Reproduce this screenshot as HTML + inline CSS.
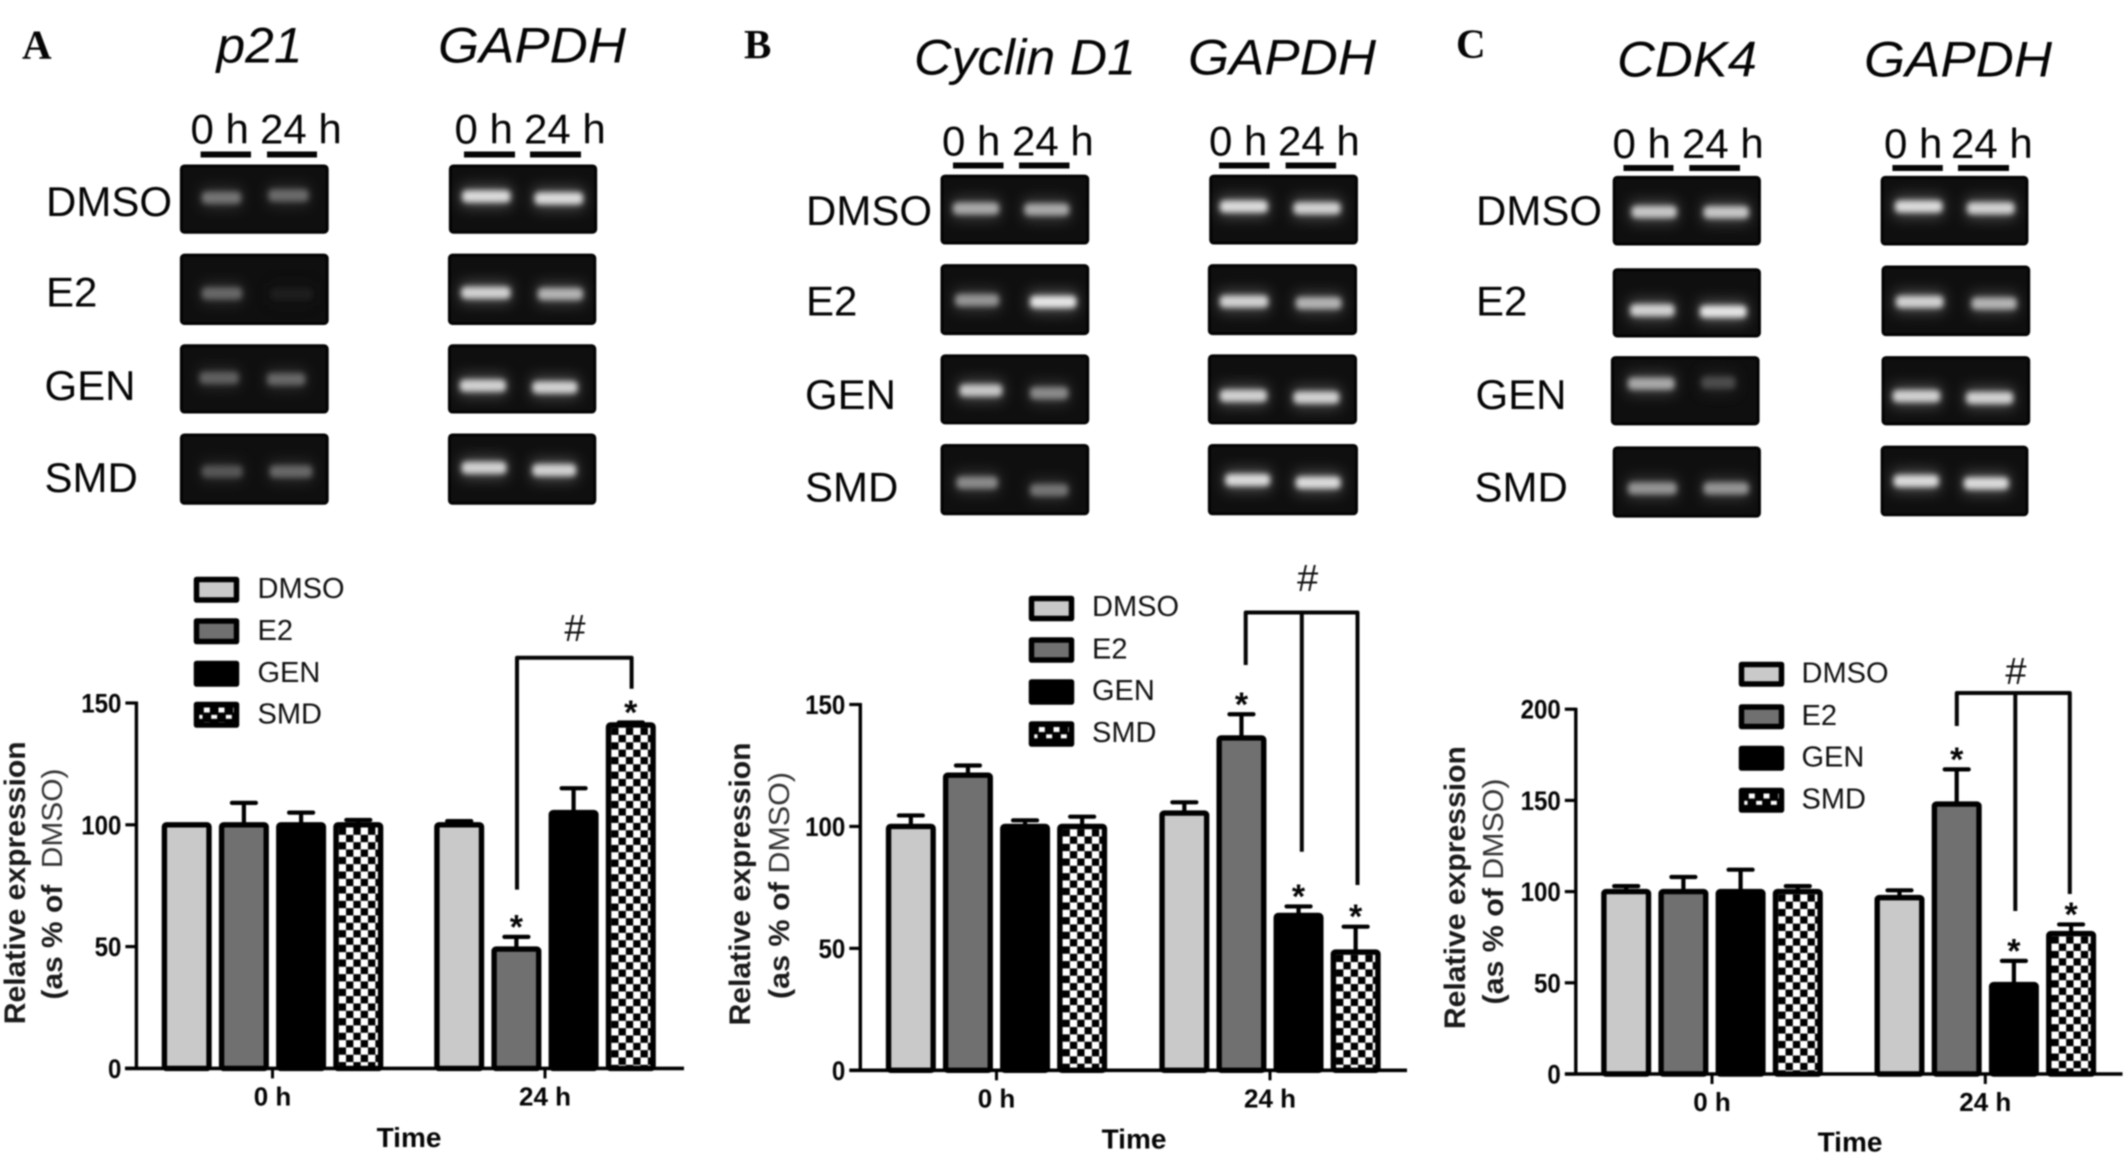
<!DOCTYPE html>
<html lang="en">
<head>
<meta charset="utf-8">
<title>Relative expression of p21, Cyclin D1 and CDK4</title>
<style>
html,body{margin:0;padding:0;background:#fff;width:2126px;height:1154px;overflow:hidden}
#figure{display:block;filter:blur(.7px)}
text{font-family:"Liberation Sans",Arial,sans-serif;fill:#050505}
.letter{font-family:"Liberation Serif",serif;font-weight:bold;font-size:41px}
.gene{font-style:italic;font-size:50px}
.hour{font-size:42px}
.row{font-size:42px}
.leg{font-size:29px;fill:#111}
.hash{font-size:38px;text-anchor:middle;fill:#111}
.time{font-size:28px;font-weight:bold;text-anchor:middle}
.yt1{font-size:30px;font-weight:bold;text-anchor:middle;fill:#1a1a1a}
.yt2{font-size:29px;text-anchor:middle;fill:#1a1a1a}
.ub{fill:#050505}
.lbox{stroke:#000;stroke-width:5.5;stroke-linejoin:round}
.brk{fill:none;stroke:#050505;stroke-width:4;stroke-linejoin:round}
</style>
</head>
<body>
<svg id="figure" xmlns="http://www.w3.org/2000/svg" width="2126" height="1154" viewBox="0 0 2126 1154">
<defs id="defs">
  <filter id="band-blur" x="-30%" y="-150%" width="160%" height="400%"><feGaussianBlur stdDeviation="3"/></filter>
  <filter id="halo-blur" x="-40%" y="-150%" width="180%" height="400%"><feGaussianBlur stdDeviation="7"/></filter>
  <pattern id="leg-a" patternUnits="userSpaceOnUse" width="14.66" height="14.66" patternTransform="translate(196.5 704.5)"><rect width="14.66" height="14.66" fill="#000"/><rect x="7.33" y="3" width="6" height="5" fill="#fff"/><rect x="0" y="10.33" width="6" height="4" fill="#fff"/></pattern>
  <pattern id="leg-b" patternUnits="userSpaceOnUse" width="14.66" height="14.66" patternTransform="translate(1031.5 724)"><rect width="14.66" height="14.66" fill="#000"/><rect x="7.33" y="3" width="6" height="5" fill="#fff"/><rect x="0" y="10.33" width="6" height="4" fill="#fff"/></pattern>
  <pattern id="leg-c" patternUnits="userSpaceOnUse" width="14.66" height="14.66" patternTransform="translate(1741.5 790.5)"><rect width="14.66" height="14.66" fill="#000"/><rect x="7.33" y="3" width="6" height="5" fill="#fff"/><rect x="0" y="10.33" width="6" height="4" fill="#fff"/></pattern>
</defs>

<g id="gels"></g>

<!-- Panel A labels -->
<g>
  <text class="letter" x="22" y="58.5">A</text>
  <text class="gene" x="216.5" y="62.5" textLength="86" lengthAdjust="spacingAndGlyphs">p21</text>
  <text class="gene" x="438" y="62.5" textLength="188" lengthAdjust="spacingAndGlyphs">GAPDH</text>
  <text class="hour" x="190.5" y="143.6">0 h</text>
  <text class="hour" x="260" y="143.6">24 h</text>
  <text class="hour" x="454.5" y="143.6">0 h</text>
  <text class="hour" x="524" y="143.6">24 h</text>
  <rect class="ub" x="200.6" y="151.5" width="50.4" height="6"/>
  <rect class="ub" x="267" y="151.5" width="50" height="6"/>
  <rect class="ub" x="464" y="151.5" width="51" height="6"/>
  <rect class="ub" x="530" y="151.5" width="51" height="6"/>
  <text class="row" x="46" y="216">DMSO</text>
  <text class="row" x="46" y="306.6">E2</text>
  <text class="row" x="44.5" y="400">GEN</text>
  <text class="row" x="44.5" y="492">SMD</text>
</g>
<!-- Panel B labels -->
<g>
  <text class="letter" x="744" y="58">B</text>
  <text class="gene" x="914" y="74.4" textLength="222" lengthAdjust="spacingAndGlyphs">Cyclin D1</text>
  <text class="gene" x="1188" y="74.4" textLength="188" lengthAdjust="spacingAndGlyphs">GAPDH</text>
  <text class="hour" x="942" y="155.5">0 h</text>
  <text class="hour" x="1012" y="155.5">24 h</text>
  <text class="hour" x="1209" y="155.5">0 h</text>
  <text class="hour" x="1278" y="155.5">24 h</text>
  <rect class="ub" x="953" y="162.5" width="50.5" height="6"/>
  <rect class="ub" x="1019" y="162.5" width="50.5" height="6"/>
  <rect class="ub" x="1219" y="162.5" width="50.5" height="6"/>
  <rect class="ub" x="1285.6" y="162.5" width="50.5" height="6"/>
  <text class="row" x="806" y="224.8">DMSO</text>
  <text class="row" x="806" y="315.4">E2</text>
  <text class="row" x="805" y="409">GEN</text>
  <text class="row" x="805" y="501.3">SMD</text>
</g>
<!-- Panel C labels -->
<g>
  <text class="letter" x="1456" y="57.5">C</text>
  <text class="gene" x="1617" y="76.7" textLength="140" lengthAdjust="spacingAndGlyphs">CDK4</text>
  <text class="gene" x="1864" y="76.7" textLength="188" lengthAdjust="spacingAndGlyphs">GAPDH</text>
  <text class="hour" x="1612.5" y="157.8">0 h</text>
  <text class="hour" x="1682" y="157.8">24 h</text>
  <text class="hour" x="1884" y="157.8">0 h</text>
  <text class="hour" x="1951" y="157.8">24 h</text>
  <rect class="ub" x="1623.5" y="165" width="50" height="6"/>
  <rect class="ub" x="1689.3" y="165" width="50.7" height="6"/>
  <rect class="ub" x="1892.4" y="165" width="50.4" height="6"/>
  <rect class="ub" x="1958" y="165" width="51" height="6"/>
  <text class="row" x="1476" y="224.8">DMSO</text>
  <text class="row" x="1476" y="315.4">E2</text>
  <text class="row" x="1475.5" y="409">GEN</text>
  <text class="row" x="1474.5" y="501.3">SMD</text>
</g>

<g id="chart-a"></g>
<g id="chart-b"></g>
<g id="chart-c"></g>

<!-- Chart A annotations -->
<g>
  <g>
    <rect class="lbox" x="196.5" y="579.5" width="40" height="20.5" fill="#c9c9c9"/>
    <rect class="lbox" x="196.5" y="621" width="40" height="20.5" fill="#707070"/>
    <rect class="lbox" x="196.5" y="663.5" width="40" height="20.5" fill="#000"/>
    <rect class="lbox" x="196.5" y="704.5" width="40" height="20.5" fill="url(#leg-a)"/>
    <text class="leg" x="257.5" y="598">DMSO</text>
    <text class="leg" x="257.5" y="640">E2</text>
    <text class="leg" x="257.5" y="682">GEN</text>
    <text class="leg" x="257.5" y="723.5">SMD</text>
  </g>
  <path class="brk" d="M517 889.6V657.7H631.6V688.8"/>
  <text class="hash" x="575" y="641">#</text>
  <text class="yt1" transform="translate(25 882.8) rotate(-90)" textLength="283" lengthAdjust="spacingAndGlyphs">Relative expression</text>
  <text class="yt2" transform="translate(62 884) rotate(-90)" textLength="231" lengthAdjust="spacingAndGlyphs"><tspan font-weight="bold">(as % of</tspan>&#160;&#160;<tspan fill="#333">DMSO)</tspan></text>
  <text class="time" x="409" y="1147">Time</text>
</g>
<!-- Chart B annotations -->
<g>
  <g>
    <rect class="lbox" x="1031.5" y="598.5" width="40" height="20" fill="#c9c9c9"/>
    <rect class="lbox" x="1031.5" y="640" width="40" height="20" fill="#707070"/>
    <rect class="lbox" x="1031.5" y="682" width="40" height="20" fill="#000"/>
    <rect class="lbox" x="1031.5" y="724" width="40" height="20" fill="url(#leg-b)"/>
    <text class="leg" x="1092" y="616">DMSO</text>
    <text class="leg" x="1092" y="658.5">E2</text>
    <text class="leg" x="1092" y="700">GEN</text>
    <text class="leg" x="1092" y="742">SMD</text>
  </g>
  <path class="brk" d="M1245.7 665V612.5H1357.5V885M1301.8 612.5V851.7"/>
  <text class="hash" x="1307.7" y="591">#</text>
  <text class="yt1" transform="translate(750 884) rotate(-90)" textLength="283" lengthAdjust="spacingAndGlyphs">Relative expression</text>
  <text class="yt2" transform="translate(789 885.5) rotate(-90)" textLength="227" lengthAdjust="spacingAndGlyphs"><tspan font-weight="bold">(as % of</tspan>&#160;<tspan fill="#333">DMSO)</tspan></text>
  <text class="time" x="1134" y="1148.3">Time</text>
</g>
<!-- Chart C annotations -->
<g>
  <g>
    <rect class="lbox" x="1741.5" y="664.5" width="40" height="19.5" fill="#c9c9c9"/>
    <rect class="lbox" x="1741.5" y="707" width="40" height="19.5" fill="#707070"/>
    <rect class="lbox" x="1741.5" y="748.5" width="40" height="19.5" fill="#000"/>
    <rect class="lbox" x="1741.5" y="790.5" width="40" height="19.5" fill="url(#leg-c)"/>
    <text class="leg" x="1801.5" y="682.5">DMSO</text>
    <text class="leg" x="1801.5" y="725">E2</text>
    <text class="leg" x="1801.5" y="766.5">GEN</text>
    <text class="leg" x="1801.5" y="808.5">SMD</text>
  </g>
  <path class="brk" d="M1956.8 726V693H2069.8V894M2015.3 693V911"/>
  <text class="hash" x="2016" y="684">#</text>
  <text class="yt1" transform="translate(1465 887.6) rotate(-90)" textLength="283" lengthAdjust="spacingAndGlyphs">Relative expression</text>
  <text class="yt2" transform="translate(1503 891.5) rotate(-90)" textLength="226" lengthAdjust="spacingAndGlyphs"><tspan font-weight="bold">(as % of</tspan>&#160;<tspan fill="#333">DMSO)</tspan></text>
  <text class="time" x="1850" y="1151.3">Time</text>
</g>
</svg>

<script>
// ---------- chart data ----------
const categories = ['0 h', '24 h'];
const seriesNames = ['DMSO', 'E2', 'GEN', 'SMD'];

const panelATicks = [0, 50, 100, 150];
const panelADmso = [100, 100];
const panelAE2 = [100, 49];
const panelAGen = [100, 105];
const panelASmd = [100, 141];
const panelADmsoErr = [0, 1.5];
const panelAE2Err = [9, 5];
const panelAGenErr = [5, 10];
const panelASmdErr = [2, 1];
const panelAStars0h = [0, 0, 0, 0];
const panelAStars24h = [0, 1, 0, 1];

const panelBTicks = [0, 50, 100, 150];
const panelBDmso = [100, 105.5];
const panelBE2 = [121, 136.3];
const panelBGen = [100, 63.5];
const panelBSmd = [100, 48.5];
const panelBDmsoErr = [4.5, 4.4];
const panelBE2Err = [4, 9.7];
const panelBGenErr = [2.5, 3.7];
const panelBSmdErr = [4, 10.4];
const panelBStars0h = [0, 0, 0, 0];
const panelBStars24h = [0, 1, 1, 1];

const panelCTicks = [0, 50, 100, 150, 200];
const panelCDmso = [100, 96.7];
const panelCE2 = [100, 148];
const panelCGen = [100, 49];
const panelCSmd = [100, 77];
const panelCDmsoErr = [3, 4];
const panelCE2Err = [8, 19];
const panelCGenErr = [12, 13];
const panelCSmdErr = [3, 5];
const panelCStars0h = [0, 0, 0, 0];
const panelCStars24h = [0, 1, 1, 1];

// ---------- gel image bands: [x0,x1,y0,y1,[band],[band]], band = [x0,x1,y,intensity] ----------
const gelSetA = [
 [393,715,488,690,[440,525,585,.45],[585,672,578,.4]],
 [393,715,752,960,[440,527,868,.38],[590,680,870,.03]],
 [393,715,1020,1222,[435,520,1118,.35],[582,665,1122,.38]],
 [393,715,1284,1492,[440,528,1395,.3],[588,680,1395,.38]],
 [979,1300,488,690,[1007,1112,581,.95],[1165,1270,587,.95]],
 [977,1298,752,960,[1005,1112,866,.9],[1172,1270,870,.75]],
 [977,1298,1020,1222,[1002,1102,1141,.9],[1160,1258,1146,.9]],
 [977,1298,1284,1492,[1006,1103,1384,.9],[1160,1255,1391,.9]]
];
const gelSetB = [
 [495,826,518,722,[522,625,617,.7],[682,782,620,.7]],
 [495,826,783,990,[527,625,888,.6],[695,798,893,1]],
 [495,826,1050,1254,[537,632,1155,.85],[695,780,1163,.55]],
 [495,826,1315,1523,[530,622,1428,.55],[695,780,1450,.45]],
 [1097,1428,518,722,[1120,1227,611,.95],[1285,1390,616,.9]],
 [1094,1426,783,990,[1120,1228,892,.9],[1290,1392,897,.75]],
 [1094,1426,1050,1254,[1120,1225,1171,.9],[1285,1387,1176,.9]],
 [1094,1428,1315,1523,[1132,1232,1420,.95],[1290,1390,1428,.95]]
];
const gelSetC = [
 [429,756,522,725,[470,570,627,.85],[630,730,628,.85]],
 [429,756,795,997,[467,565,918,.9],[622,725,922,1]],
 [425,753,1055,1257,[462,565,1135,.7],[625,700,1132,.25]],
 [429,756,1322,1530,[462,570,1445,.6],[630,730,1445,.6]],
 [1024,1350,522,725,[1055,1160,611,.95],[1215,1320,616,.9]],
 [1026,1354,787,993,[1057,1162,893,.9],[1225,1325,898,.75]],
 [1026,1354,1055,1257,[1050,1155,1172,.9],[1213,1317,1177,.9]],
 [1024,1350,1320,1526,[1052,1152,1423,.95],[1208,1307,1430,.95]]
];

const NS = 'http://www.w3.org/2000/svg';
function el(tag, parent) {
  const e = document.createElementNS(NS, tag);
  parent.appendChild(e);
  return e;
}

function drawGels(set, ox, fx, label) {
  const fy = 0.338;
  const root = document.getElementById('gels');
  set.forEach(function (g, gi) {
    const wrap = el('g', root);
    
    
    const x0 = ox + g[0] * fx, x1 = ox + g[1] * fx, y0 = g[2] * fy, y1 = g[3] * fy;
    const bg = el('rect', wrap);
    
    
    bg.setAttribute('x', x0 + 1);
    bg.setAttribute('y', y0 + 1);
    bg.setAttribute('width', x1 - x0 - 2);
    bg.setAttribute('height', y1 - y0 - 2);
    bg.setAttribute('rx', 3);
    bg.setAttribute('fill', '#0f0f0f');
    bg.setAttribute('stroke', '#030303');
    bg.setAttribute('stroke-width', 3);
    [g[4], g[5]].forEach(function (b) {
      const bx = ox + b[0] * fx, bw = (b[1] - b[0]) * fx, by = b[2] * fy, iv = b[3];
      const v = Math.round(25 + iv * 205);
      const halo = el('rect', wrap);
      
      
      halo.setAttribute('x', bx - 1);
      halo.setAttribute('y', by - 11);
      halo.setAttribute('width', bw + 2);
      halo.setAttribute('height', 22);
      halo.setAttribute('fill', 'rgb(' + v + ',' + v + ',' + v + ')');
      halo.setAttribute('opacity', 0.3);
      halo.setAttribute('filter', 'url(#halo-blur)');
      const band = el('rect', wrap);
      
      
      band.setAttribute('x', bx);
      band.setAttribute('y', by - 6);
      band.setAttribute('width', bw);
      band.setAttribute('height', 12);
      band.setAttribute('rx', 4);
      band.setAttribute('fill', 'rgb(' + v + ',' + v + ',' + v + ')');
      band.setAttribute('filter', 'url(#band-blur)');
    });
  });
}
drawGels(gelSetA, 0, 0.459, 'a');
drawGels(gelSetB, 720, 0.4464, 'b');
drawGels(gelSetC, 1420, 0.4503, 'c');

const barFills = ['#c9c9c9', '#707070', '#000000', null];
const barW = 50, strokeW = 5.4;

function drawChart(id, layout, ticks, series, errors, stars) {
  const g = document.getElementById(id);
  const defs = document.getElementById('defs');
  const yMax = ticks[ticks.length - 1];
  const yScale = function (v) { return layout.yBase - (v / yMax) * (layout.yBase - layout.yTop); };
  const xScale = function (cat, s) { return layout.centers[cat] + (s - 1.5) * layout.pitch; };

  categories.forEach(function (cat, c) {
    seriesNames.forEach(function (name, s) {
      const val = series[s][c], err = errors[s][c];
      const cx = xScale(c, s);
      const top = yScale(val);
      if (err > 0) {
        const stem = el('line', g);
        
        
        stem.setAttribute('x1', cx);
        stem.setAttribute('x2', cx);
        stem.setAttribute('y1', top);
        stem.setAttribute('y2', yScale(val + err));
        stem.setAttribute('stroke', '#000');
        stem.setAttribute('stroke-width', 4.2);
        const cap = el('line', g);
        
        
        cap.setAttribute('x1', cx - 12);
        cap.setAttribute('x2', cx + 12);
        cap.setAttribute('y1', yScale(val + err));
        cap.setAttribute('y2', yScale(val + err));
        cap.setAttribute('stroke', '#000');
        cap.setAttribute('stroke-width', 4.2);
        cap.setAttribute('stroke-linecap', 'round');
      }
      const bar = el('rect', g);
      
      
      bar.setAttribute('x', cx - barW / 2 + strokeW / 2);
      bar.setAttribute('y', top);
      bar.setAttribute('width', barW - strokeW);
      bar.setAttribute('height', layout.yBase - top);
      bar.setAttribute('rx', 2);
      bar.setAttribute('stroke', '#000');
      bar.setAttribute('stroke-width', strokeW);
      if (barFills[s]) {
        bar.setAttribute('fill', barFills[s]);
      } else {
        const pid = id + '-check-' + c;
        const pat = el('pattern', defs);
        pat.setAttribute('id', pid);
        pat.setAttribute('patternUnits', 'userSpaceOnUse');
        pat.setAttribute('width', 14.66);
        pat.setAttribute('height', 14.66);
        pat.setAttribute('patternTransform', 'translate(' + (cx - barW / 2 + strokeW) + ' ' + (top + strokeW / 2) + ')');
        const pBg = el('rect', pat);
        pBg.setAttribute('width', 14.66);
        pBg.setAttribute('height', 14.66);
        pBg.setAttribute('fill', '#000');
        const w1 = el('rect', pat);
        w1.setAttribute('x', 7.33);
        w1.setAttribute('y', 0);
        w1.setAttribute('width', 7.33);
        w1.setAttribute('height', 7.33);
        w1.setAttribute('fill', '#fff');
        const w2 = el('rect', pat);
        w2.setAttribute('x', 0);
        w2.setAttribute('y', 7.33);
        w2.setAttribute('width', 7.33);
        w2.setAttribute('height', 7.33);
        w2.setAttribute('fill', '#fff');
        bar.setAttribute('fill', 'url(#' + pid + ')');
      }
      if (stars[c][s]) {
        const star = el('text', g);
        
        
        star.setAttribute('x', cx);
        star.setAttribute('y', yScale(val + err) - 18 + 19.5);
        star.setAttribute('text-anchor', 'middle');
        star.setAttribute('font-size', 34);
        star.setAttribute('font-weight', 'bold');
        star.setAttribute('fill', '#0a0a0a');
        star.textContent = '*';
      }
    });
  });

  const yAxis = el('line', g);
  
  
  yAxis.setAttribute('x1', layout.axisX);
  yAxis.setAttribute('x2', layout.axisX);
  yAxis.setAttribute('y1', yScale(yMax) - 1.5);
  yAxis.setAttribute('y2', layout.yBase);
  yAxis.setAttribute('stroke', '#000');
  yAxis.setAttribute('stroke-width', 3.4);

  const xAxis = el('line', g);
  
  
  xAxis.setAttribute('x1', layout.xStart);
  xAxis.setAttribute('x2', layout.xEnd);
  xAxis.setAttribute('y1', layout.yBase);
  xAxis.setAttribute('y2', layout.yBase);
  xAxis.setAttribute('stroke', '#000');
  xAxis.setAttribute('stroke-width', 3.6);

  ticks.forEach(function (t) {
    const mark = el('line', g);
    
    
    mark.setAttribute('x1', layout.axisX - 11);
    mark.setAttribute('x2', layout.axisX);
    mark.setAttribute('y1', yScale(t));
    mark.setAttribute('y2', yScale(t));
    mark.setAttribute('stroke', '#000');
    mark.setAttribute('stroke-width', 3.2);
    const lab = el('text', g);
    
    
    lab.setAttribute('x', layout.axisX - 15);
    lab.setAttribute('y', yScale(t) + 9.5);
    lab.setAttribute('text-anchor', 'end');
    lab.setAttribute('font-size', 27);
    lab.setAttribute('font-weight', 'bold');
    lab.setAttribute('textLength', String(t).length * 13.4);
    lab.setAttribute('lengthAdjust', 'spacingAndGlyphs');
    lab.textContent = t;
  });

  categories.forEach(function (cat, c) {
    const mark = el('line', g);
    
    
    mark.setAttribute('x1', layout.centers[c]);
    mark.setAttribute('x2', layout.centers[c]);
    mark.setAttribute('y1', layout.yBase);
    mark.setAttribute('y2', layout.yBase + 10);
    mark.setAttribute('stroke', '#000');
    mark.setAttribute('stroke-width', 3);
    const lab = el('text', g);
    
    
    lab.setAttribute('x', layout.centers[c]);
    lab.setAttribute('y', layout.yBase + 37);
    lab.setAttribute('text-anchor', 'middle');
    lab.setAttribute('font-size', 26);
    lab.setAttribute('font-weight', 'bold');
    lab.textContent = cat;
  });
}

drawChart('chart-a',
  {axisX: 136.4, yBase: 1068.4, yTop: 703, xStart: 125, xEnd: 684, centers: [272.5, 545], pitch: 57.2},
  panelATicks,
  [panelADmso, panelAE2, panelAGen, panelASmd],
  [panelADmsoErr, panelAE2Err, panelAGenErr, panelASmdErr],
  [panelAStars0h, panelAStars24h]);
drawChart('chart-b',
  {axisX: 860.3, yBase: 1070.3, yTop: 704.5, xStart: 849.5, xEnd: 1407, centers: [996.5, 1270], pitch: 57.1},
  panelBTicks,
  [panelBDmso, panelBE2, panelBGen, panelBSmd],
  [panelBDmsoErr, panelBE2Err, panelBGenErr, panelBSmdErr],
  [panelBStars0h, panelBStars24h]);
drawChart('chart-c',
  {axisX: 1575.8, yBase: 1074, yTop: 709.2, xStart: 1565, xEnd: 2122.5, centers: [1712, 1985.3], pitch: 57.2},
  panelCTicks,
  [panelCDmso, panelCE2, panelCGen, panelCSmd],
  [panelCDmsoErr, panelCE2Err, panelCGenErr, panelCSmdErr],
  [panelCStars0h, panelCStars24h]);
</script>
</body>
</html>
